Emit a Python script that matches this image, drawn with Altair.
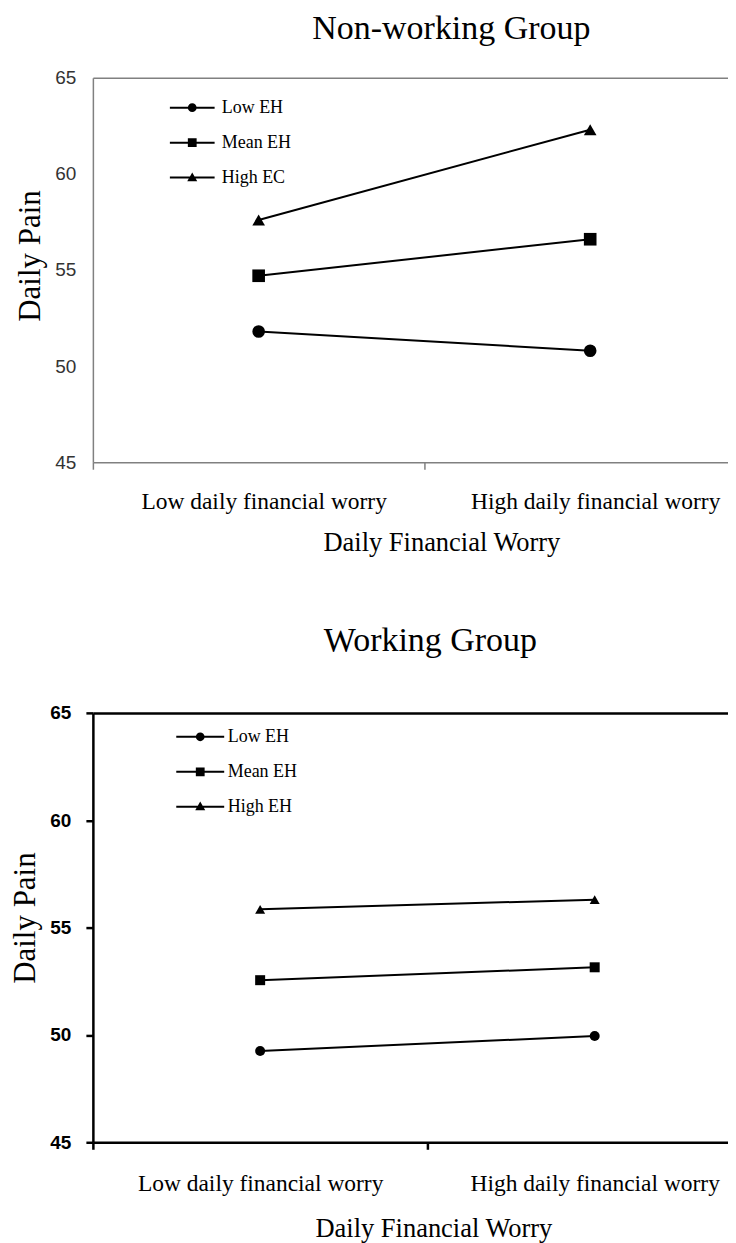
import json
import altair as alt
import pandas as pd

# ---- data ----
worry = ["Low daily financial worry", "High daily financial worry"]

top_groups = ["Low EH", "Mean EH", "High EC"]
top_low = [51.8, 50.8]
top_mean = [54.7, 56.6]
top_high = [57.6, 62.3]

bottom_groups = ["Low EH", "Mean EH", "High EH"]
bottom_low = [49.25, 49.95]
bottom_mean = [52.55, 53.15]
bottom_high = [55.85, 56.3]

y_ticks = [45, 50, 55, 60, 65]

SERIF = "Liberation Serif"
SANS = "Liberation Sans"


def frame(groups, series):
    rows = []
    for g, vals in zip(groups, series):
        for w, v in zip(worry, vals):
            rows.append({"worry": w, "group": g, "pain": v})
    return pd.DataFrame(rows)


def legend_paths(half):
    bar = f"M-{half},-0.25H{half}V0.25H-{half}Z"
    circle = bar + "M1.1,0A1.1,1.1,0,1,1,-1.1,0A1.1,1.1,0,1,1,1.1,0Z"
    square = bar + "M-1.1,-1.1H1.1V1.1H-1.1Z"
    tri = bar + "M0,-1.3L1.25,0.9H-1.25Z"
    return [circle, square, tri]


SLOT_EXPR = f"indexof({json.dumps(worry)}, datum.worry) + 0.5"
LABEL_EXPR = (f"datum.value == 0.5 ? '{worry[0]}' : "
              f"datum.value == 1.5 ? '{worry[1]}' : ''")


def panel(df, groups, title, st):
    x = alt.X(
        "slot:Q",
        scale=alt.Scale(domain=[0, st["width"] / st["step"]], nice=False, zero=False),
        axis=alt.Axis(
            title="Daily Financial Worry",
            values=[0, 0.5, 1, 1.5],
            labelExpr=LABEL_EXPR,
            domain=True,
            domainColor=st["axis_color"],
            domainWidth=st["axis_width"],
            ticks=True,
            tickSize=7,
            tickColor=st["axis_color"],
            tickWidth=st["axis_width"],
            tickOpacity={"condition": {"test": "datum.value == 0.5 || datum.value == 1.5", "value": 0},
                         "value": 1},
            labelPadding=st["xlabel_pad"],
            labelOffset=st["xlabel_offset"],
            labelFont=SERIF,
            labelFontSize=23.5,
            labelColor="black",
            labelAngle=0,
            labelLimit=0,
            labelFlush=False,
            labelOverlap=False,
            labelBound=False,
            titleFont=SERIF,
            titleFontSize=26.5,
            titleFontWeight="normal",
            titleColor="black",
            titlePadding=st["xtitle_pad"],
            titleX=st["xtitle_x"],
            titleAlign="center",
            grid=False,
        ),
    )
    y = alt.Y(
        "pain:Q",
        scale=alt.Scale(domain=[45, 65], nice=False, zero=False),
        axis=alt.Axis(
            values=y_ticks,
            title="Daily Pain",
            grid=True,
            gridColor=st["axis_color"],
            gridWidth=st["axis_width"],
            gridOpacity={"condition": {"test": "datum.value == 65", "value": 1}, "value": 0},
            domainColor=st["axis_color"],
            domainWidth=st["axis_width"],
            ticks=st["yticks"],
            tickSize=7,
            tickColor=st["axis_color"],
            tickWidth=st["axis_width"],
            labelFont=SANS,
            labelFontSize=19,
            labelFontWeight=st["ylabel_weight"],
            labelColor=st["ylabel_color"],
            labelPadding=st["ylabel_pad"],
            titleFont=SERIF,
            titleFontSize=31,
            titleFontWeight="normal",
            titleColor="black",
            titleAngle=270,
            titleAlign="center",
            titleBaseline="top",
            titleX=st["title_x"],
            titleY=st["title_y"],
        ),
    )
    base = alt.Chart(df).transform_calculate(slot=SLOT_EXPR)
    lines = base.mark_line(color="black", strokeWidth=2).encode(
        x=x, y=y, detail="group:N"
    )
    points = base.mark_point(filled=True, color="black", opacity=1,
                             size=st["msize"]).encode(
        x=x,
        y=y,
        shape=alt.Shape(
            "group:N",
            scale=alt.Scale(domain=groups, range=["circle", "square", "triangle-up"]),
            legend=None,
        ),
    )
    # legend source: no rows are drawn, the legend entries come from the shape scale domain
    legend_layer = base.transform_filter("false").mark_point(
        filled=True, color="black", opacity=1
    ).encode(
        x=x,
        y=y,
        shape=alt.Shape(
            "group:N",
            scale=alt.Scale(domain=groups, range=legend_paths(st["half"])),
            legend=alt.Legend(
                title=None,
                orient="none",
                legendX=st["legend_x"],
                legendY=st["legend_y"],
                direction="vertical",
                labelFont=SERIF,
                labelFontSize=18,
                labelColor="black",
                labelOffset=st["legend_label_offset"],
                rowPadding=17,
                symbolSize=64,
                symbolFillColor="black",
                symbolOpacity=1,
                padding=0,
            ),
        ),
    )
    return alt.layer(lines, points, legend_layer).resolve_scale(shape="independent").properties(
        width=st["width"],
        height=st["height"],
        title=alt.TitleParams(
            text=title,
            font=SERIF,
            fontSize=34,
            fontWeight="normal",
            color="black",
            anchor="middle",
            baseline="alphabetic",
            offset=st["title_offset"],
            dx=st["title_dx"],
        ),
    )


top_style = dict(step=332, width=636, height=385, axis_color="#808080", axis_width=1.5,
                 yticks=False, ylabel_weight="normal", ylabel_color="#333333", ylabel_pad=17,
                 xlabel_pad=20, xlabel_offset=5, xtitle_pad=17, xtitle_x=349,
                 title_x=-77, title_y=178,
                 msize=160, legend_x=90.5, legend_y=21, legend_label_offset=20.5, half=5.6,
                 title_offset=-4, title_dx=41)
bottom_style = dict(step=335, width=636, height=430, axis_color="black", axis_width=2.5,
                    yticks=True, ylabel_weight="bold", ylabel_color="black", ylabel_pad=15,
                    xlabel_pad=22, xlabel_offset=0, xtitle_pad=21, xtitle_x=341,
                    title_x=-82, title_y=205,
                    msize=100, legend_x=98.5, legend_y=15, legend_label_offset=18.5, half=6,
                    title_offset=19, title_dx=20)

top = panel(frame(top_groups, [top_low, top_mean, top_high]), top_groups,
            "Non-working Group", top_style)
bottom = panel(frame(bottom_groups, [bottom_low, bottom_mean, bottom_high]), bottom_groups,
               "Working Group", bottom_style)

chart = alt.vconcat(top, bottom, spacing=68).configure_view(stroke=None).properties(
    padding={"left": 2, "top": 3, "right": 0, "bottom": 0}
)

chart.save("out.html", embed_options={"renderer": "svg", "actions": False})
